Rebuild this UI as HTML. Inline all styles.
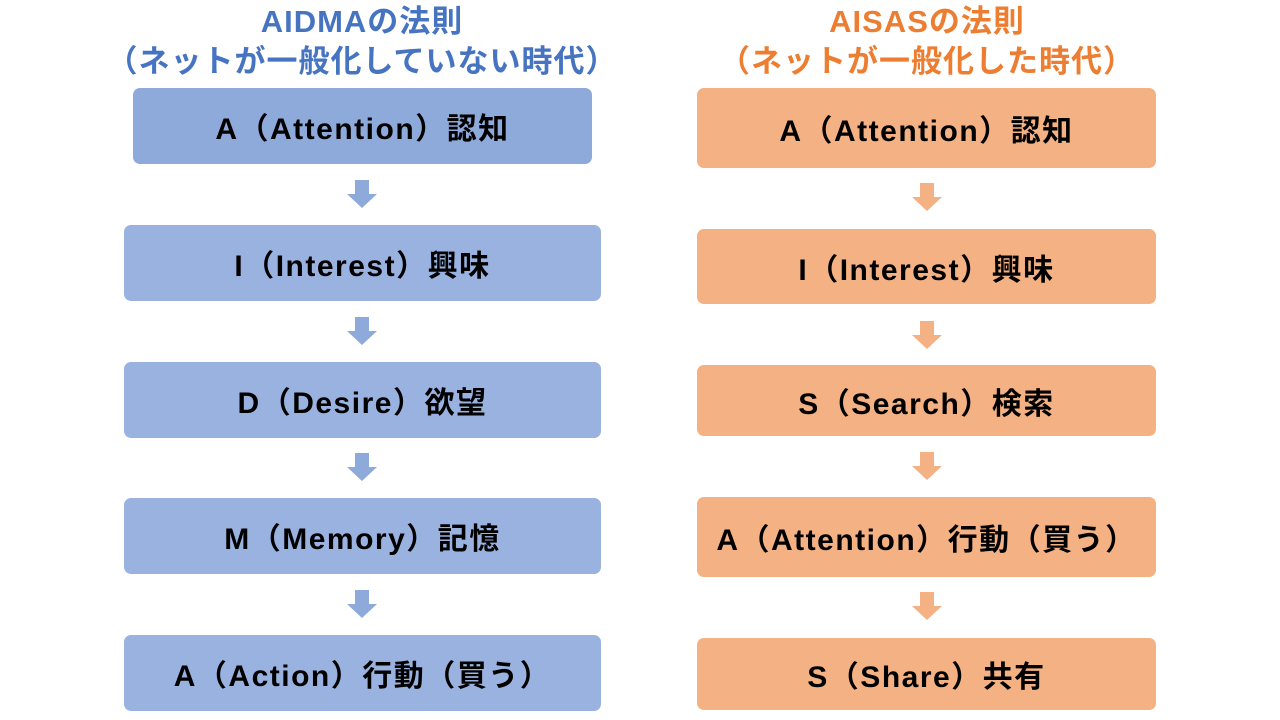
<!DOCTYPE html>
<html><head><meta charset="utf-8"><style>
body{margin:0;width:1280px;height:720px;background:#fff;position:relative;overflow:hidden;font-family:"Liberation Sans","Noto Sans CJK JP",sans-serif;}
.t{position:absolute;font-weight:bold;font-size:31px;text-align:center;white-space:nowrap;line-height:40px;letter-spacing:1px}
.b{position:absolute;border-radius:7px;display:flex;align-items:center;justify-content:center;font-weight:bold;font-size:30px;color:#000;white-space:nowrap;letter-spacing:1.5px}
.L{background:#99b2df}.R{background:#f4b183}
</style></head><body>
<div class="t" style="left:62px;width:600px;top:2px;color:#4674c1">AIDMAの法則</div>
<div class="t" style="left:62px;width:600px;top:42px;color:#4674c1">（ネットが一般化していない時代）</div>
<div class="t" style="left:627px;width:600px;top:2px;color:#ed7d31">AISASの法則</div>
<div class="t" style="left:627px;width:600px;top:42px;color:#ed7d31">（ネットが一般化した時代）</div>

<div class="b L" style="left:133px;top:88px;width:459px;height:76px;background:#8eaadb">A（Attention）認知</div>
<div class="b L" style="left:124px;top:225px;width:477px;height:76px">I（Interest）興味</div>
<div class="b L" style="left:124px;top:362px;width:477px;height:76px">D（Desire）欲望</div>
<div class="b L" style="left:124px;top:498px;width:477px;height:76px">M（Memory）記憶</div>
<div class="b L" style="left:124px;top:635px;width:477px;height:76px">A（Action）行動（買う）</div>

<div class="b R" style="left:697px;top:88px;width:459px;height:80px">A（Attention）認知</div>
<div class="b R" style="left:697px;top:229px;width:459px;height:75px">I（Interest）興味</div>
<div class="b R" style="left:697px;top:365px;width:459px;height:71px">S（Search）検索</div>
<div class="b R" style="left:697px;top:497px;width:459px;height:80px">A（Attention）行動（買う）</div>
<div class="b R" style="left:697px;top:638px;width:459px;height:72px">S（Share）共有</div>

<svg width="1280" height="720" style="position:absolute;left:0;top:0">
<g fill="#8eaadb">
<path d="M355 180h14v14h8l-15 14-15-14h8z"/>
<path d="M355 317h14v14h8l-15 14-15-14h8z"/>
<path d="M355 453h14v14h8l-15 14-15-14h8z"/>
<path d="M355 590h14v14h8l-15 14-15-14h8z"/>
</g>
<g fill="#f4b183">
<path d="M920 183h14v14h8l-15 14-15-14h8z"/>
<path d="M920 321h14v14h8l-15 14-15-14h8z"/>
<path d="M920 452h14v14h8l-15 14-15-14h8z"/>
<path d="M920 592h14v14h8l-15 14-15-14h8z"/>
</g>
</svg>
</body></html>
